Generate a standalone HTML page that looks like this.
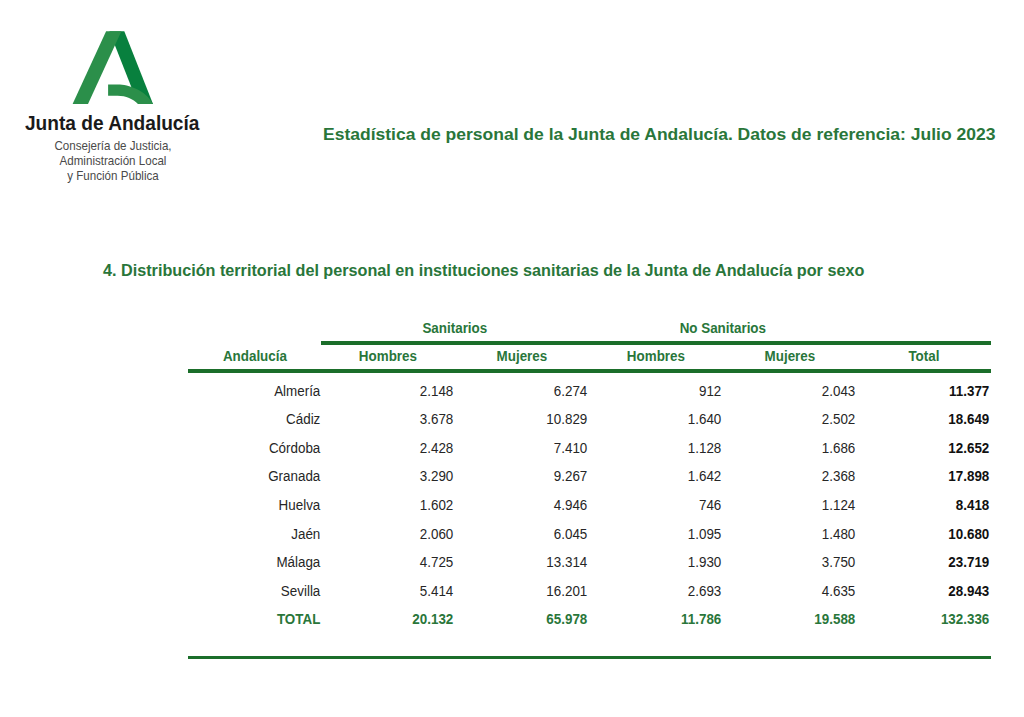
<!DOCTYPE html>
<html><head><meta charset="utf-8">
<style>
html,body{margin:0;padding:0;background:#fff;width:1024px;height:717px;overflow:hidden;position:relative;font-family:"Liberation Sans",sans-serif;}
.abs{position:absolute;white-space:nowrap;}
#logo{position:absolute;left:0;top:0;}
.jda{left:25px;top:112px;font-size:20px;transform:scaleX(0.955);transform-origin:0 0;font-weight:bold;color:#1a1a1a;}
.sub{font-size:12.4px;line-height:14px;color:#4a4a4a;text-align:center;left:0;width:226px;transform:scaleX(0.935);transform-origin:113px 0;}
.title{left:323px;top:124px;font-size:17.5px;transform:scaleY(0.94);transform-origin:0 16px;font-weight:bold;color:#29763a;}
.h4{left:103px;top:261px;font-size:16.2px;font-weight:bold;color:#29763a;}
.line{position:absolute;background:#1b6e2a;}
.th{position:absolute;line-height:15px;white-space:nowrap;font-size:13.8px;transform:scaleX(0.971);transform-origin:50% 0;font-weight:bold;color:#29763a;text-align:center;width:134px;}
.td{position:absolute;line-height:15px;white-space:nowrap;font-size:13.8px;transform:scaleX(0.971);transform-origin:100% 0;color:#262626;text-align:right;width:132px;}
.tb{font-weight:bold;color:#111;}
.tg{font-weight:bold;color:#29763a;}
</style></head><body>
<svg id="logo" width="230" height="110" viewBox="0 0 230 110">
  <polygon points="109.4,31.3 124.3,31.3 153,104 138,104" fill="#08803e"/>
  <polygon points="106.1,31.3 121.4,31.3 88,104 72.6,104" fill="#2b8f4a"/>
  <path d="M108.1,84.4 L118,84.4 C128,84.4 146,90 153,104 L138.1,104 C133,99 126,95.8 117.6,95.8 L108.1,95.8 Z" fill="#2b8f4a"/>
</svg>
<div class="abs jda">Junta de Andalucía</div>
<div class="abs sub" style="top:138.5px">Consejería de Justicia,</div>
<div class="abs sub" style="top:154.2px">Administración Local</div>
<div class="abs sub" style="top:168.6px">y Función Pública</div>

<div class="abs title">Estadística de personal de la Junta de Andalucía. Datos de referencia: Julio 2023</div>
<div class="abs h4">4. Distribución territorial del personal en instituciones sanitarias de la Junta de Andalucía por sexo</div>

<div class="line" style="left:321px;top:341px;width:669.5px;height:4px"></div>
<div class="line" style="left:187.5px;top:369px;width:803px;height:4px"></div>
<div class="line" style="left:187.5px;top:656px;width:803px;height:3px"></div>

<!--T-->
<div class="th" style="left:321.33px;top:321.30px;width:267.67px">Sanitarios</div>
<div class="th" style="left:589.00px;top:321.30px;width:267.67px">No Sanitarios</div>
<div class="th" style="left:187.50px;top:349.20px;width:133.83px">Andalucía</div>
<div class="th" style="left:321.33px;top:349.20px;width:133.83px">Hombres</div>
<div class="th" style="left:455.17px;top:349.20px;width:133.83px">Mujeres</div>
<div class="th" style="left:589.00px;top:349.20px;width:133.83px">Hombres</div>
<div class="th" style="left:722.83px;top:349.20px;width:133.83px">Mujeres</div>
<div class="th" style="left:856.67px;top:349.20px;width:133.83px">Total</div>
<div class="td" style="left:187.50px;top:383.90px;width:132.33px">Almería</div>
<div class="td" style="left:321.33px;top:383.90px;width:132.33px">2.148</div>
<div class="td" style="left:455.17px;top:383.90px;width:132.33px">6.274</div>
<div class="td" style="left:589.00px;top:383.90px;width:132.33px">912</div>
<div class="td" style="left:722.83px;top:383.90px;width:132.33px">2.043</div>
<div class="td tb" style="left:856.67px;top:383.90px;width:132.33px">11.377</div>
<div class="td" style="left:187.50px;top:411.90px;width:132.33px">Cádiz</div>
<div class="td" style="left:321.33px;top:411.90px;width:132.33px">3.678</div>
<div class="td" style="left:455.17px;top:411.90px;width:132.33px">10.829</div>
<div class="td" style="left:589.00px;top:411.90px;width:132.33px">1.640</div>
<div class="td" style="left:722.83px;top:411.90px;width:132.33px">2.502</div>
<div class="td tb" style="left:856.67px;top:411.90px;width:132.33px">18.649</div>
<div class="td" style="left:187.50px;top:440.90px;width:132.33px">Córdoba</div>
<div class="td" style="left:321.33px;top:440.90px;width:132.33px">2.428</div>
<div class="td" style="left:455.17px;top:440.90px;width:132.33px">7.410</div>
<div class="td" style="left:589.00px;top:440.90px;width:132.33px">1.128</div>
<div class="td" style="left:722.83px;top:440.90px;width:132.33px">1.686</div>
<div class="td tb" style="left:856.67px;top:440.90px;width:132.33px">12.652</div>
<div class="td" style="left:187.50px;top:468.90px;width:132.33px">Granada</div>
<div class="td" style="left:321.33px;top:468.90px;width:132.33px">3.290</div>
<div class="td" style="left:455.17px;top:468.90px;width:132.33px">9.267</div>
<div class="td" style="left:589.00px;top:468.90px;width:132.33px">1.642</div>
<div class="td" style="left:722.83px;top:468.90px;width:132.33px">2.368</div>
<div class="td tb" style="left:856.67px;top:468.90px;width:132.33px">17.898</div>
<div class="td" style="left:187.50px;top:497.90px;width:132.33px">Huelva</div>
<div class="td" style="left:321.33px;top:497.90px;width:132.33px">1.602</div>
<div class="td" style="left:455.17px;top:497.90px;width:132.33px">4.946</div>
<div class="td" style="left:589.00px;top:497.90px;width:132.33px">746</div>
<div class="td" style="left:722.83px;top:497.90px;width:132.33px">1.124</div>
<div class="td tb" style="left:856.67px;top:497.90px;width:132.33px">8.418</div>
<div class="td" style="left:187.50px;top:526.90px;width:132.33px">Jaén</div>
<div class="td" style="left:321.33px;top:526.90px;width:132.33px">2.060</div>
<div class="td" style="left:455.17px;top:526.90px;width:132.33px">6.045</div>
<div class="td" style="left:589.00px;top:526.90px;width:132.33px">1.095</div>
<div class="td" style="left:722.83px;top:526.90px;width:132.33px">1.480</div>
<div class="td tb" style="left:856.67px;top:526.90px;width:132.33px">10.680</div>
<div class="td" style="left:187.50px;top:554.90px;width:132.33px">Málaga</div>
<div class="td" style="left:321.33px;top:554.90px;width:132.33px">4.725</div>
<div class="td" style="left:455.17px;top:554.90px;width:132.33px">13.314</div>
<div class="td" style="left:589.00px;top:554.90px;width:132.33px">1.930</div>
<div class="td" style="left:722.83px;top:554.90px;width:132.33px">3.750</div>
<div class="td tb" style="left:856.67px;top:554.90px;width:132.33px">23.719</div>
<div class="td" style="left:187.50px;top:583.90px;width:132.33px">Sevilla</div>
<div class="td" style="left:321.33px;top:583.90px;width:132.33px">5.414</div>
<div class="td" style="left:455.17px;top:583.90px;width:132.33px">16.201</div>
<div class="td" style="left:589.00px;top:583.90px;width:132.33px">2.693</div>
<div class="td" style="left:722.83px;top:583.90px;width:132.33px">4.635</div>
<div class="td tb" style="left:856.67px;top:583.90px;width:132.33px">28.943</div>
<div class="td tg" style="left:187.50px;top:611.90px;width:132.33px">TOTAL</div>
<div class="td tg" style="left:321.33px;top:611.90px;width:132.33px">20.132</div>
<div class="td tg" style="left:455.17px;top:611.90px;width:132.33px">65.978</div>
<div class="td tg" style="left:589.00px;top:611.90px;width:132.33px">11.786</div>
<div class="td tg" style="left:722.83px;top:611.90px;width:132.33px">19.588</div>
<div class="td tg" style="left:856.67px;top:611.90px;width:132.33px">132.336</div>
<!--/T-->
</body></html>
